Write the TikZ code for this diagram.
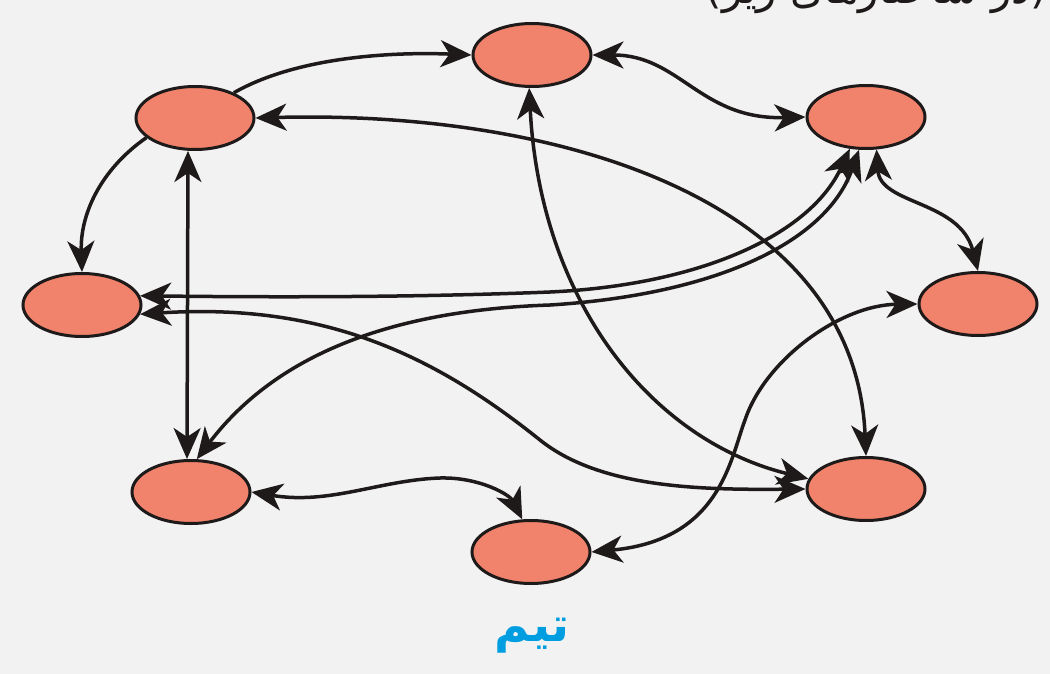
\documentclass[tikz,border=0pt]{standalone}
\usepackage{fontspec}
\usetikzlibrary{arrows.meta,shapes.geometric}
\newfontfamily\fa[Script=Arabic]{DejaVu Sans}
\TeXXeTstate=1
\definecolor{bgcol}{RGB}{242,242,242}
\definecolor{nodefill}{RGB}{241,130,107}
\definecolor{inkcol}{RGB}{30,26,26}
\definecolor{teamblue}{RGB}{0,158,224}
\tikzset{
  member/.style={ellipse, draw=inkcol, fill=nodefill, line width=3pt,
    minimum width=118pt, minimum height=63pt, inner sep=0pt},
  lnk/.style={line width=3.5pt, draw=inkcol},
  hd/.tip={Stealth[length=31pt,width=27pt,inset=9pt]},
  one/.style={lnk, -hd},
  two/.style={lnk, hd-hd}
}
\begin{document}
\begin{tikzpicture}[x=1pt,y=-1pt]
\fill[bgcol] (0,0) rectangle (1050,674);
\useasboundingbox (0,0) rectangle (1050,674);

% heading (cropped at the top edge, as in the reference)
\node[anchor=base east, inner sep=0pt, text=inkcol, font=\fontsize{42}{48}\selectfont] (head) at (1047,4)
  {\fa\beginR(در ساختارهای زیر)\endR};

% members
\node[member] (A) at (195,118) {};
\node[member] (B) at (532,55) {};
\node[member] (C) at (866,117) {};
\node[member] (D) at (82,305) {};
\node[member] (E) at (978,304) {};
\node[member] (F) at (191,492) {};
\node[member] (G) at (531,552) {};
\node[member] (H) at (866,489) {};

% connectors
\draw[one] (A.33) .. controls (300,55) and (400,52) .. (B.west);
\draw[two] (B.east) .. controls (680,55) and (700,120) .. (C.west);
\draw[one] (A.202) .. controls (100,170) and (80,215) .. (D.north);
\draw[two] ([xshift=-7pt]A.south) -- ([xshift=-4pt]F.north);
\draw[two] (A.east) .. controls (560,110) and (855,200) .. (H.north);
\draw[two] (B.265) .. controls (540,300) and (650,440) .. (H.170);
\draw[two] (C.243) .. controls (810,235) and (700,285) .. (550,292)
                   .. controls (400,298) and (250,297) .. (D.9);
\draw[two] (C.258) .. controls (825,245) and (710,295) .. (550,305)
                   .. controls (400,310) and (280,350) .. (F.80);
\draw[two] (C.288) .. controls (880,205) and (960,200) .. (E.north);
\draw[two] (D.351) .. controls (330,302) and (440,360) .. (540,440)
                   .. controls (600,488) and (700,490) .. (H.west);
\draw[two] (G.east) .. controls (720,540) and (730,460) .. (745,420)
                   .. controls (765,360) and (840,305) .. (E.west);
\draw[two] (F.east) .. controls (330,505) and (380,480) .. (440,478)
                   .. controls (480,477) and (510,495) .. (G.105);

% title
\node[text=teamblue, font=\fontsize{48}{54}\selectfont\bfseries] (team) at (532,636)
  {\fa\beginR تیم\endR};
\end{tikzpicture}
\end{document}
